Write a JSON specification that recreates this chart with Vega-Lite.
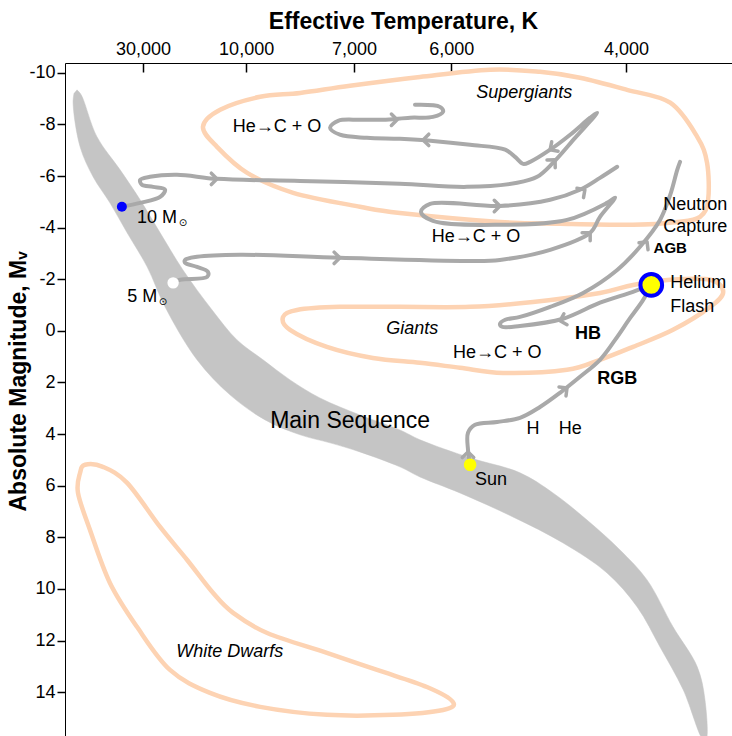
{
  "$schema": "https://vega.github.io/schema/vega-lite/v6.json",
  "width": 667,
  "height": 673,
  "autosize": {"type": "none"},
  "padding": {"left": 65, "top": 63, "right": 0, "bottom": 0},
  "background": "white",
  "config": {"view": {"stroke": null}, "font": "Liberation Sans"},
  "datasets": {
    "band": [
      {"i": 1, "bv": -0.466, "mag": -9.34}, {"i": 2, "bv": -0.454, "mag": -9.15},
      {"i": 3, "bv": -0.409, "mag": -7.52}, {"i": 4, "bv": -0.343, "mag": -6.24},
      {"i": 5, "bv": -0.286, "mag": -5.08}, {"i": 6, "bv": -0.229, "mag": -3.80},
      {"i": 7, "bv": -0.164, "mag": -2.36}, {"i": 8, "bv": -0.081, "mag": -0.81},
      {"i": 9, "bv": -0.010, "mag": 0.35}, {"i": 10, "bv": 0.064, "mag": 1.12},
      {"i": 11, "bv": 0.141, "mag": 1.90}, {"i": 12, "bv": 0.226, "mag": 2.60},
      {"i": 13, "bv": 0.340, "mag": 3.26}, {"i": 14, "bv": 0.454, "mag": 3.84},
      {"i": 15, "bv": 0.511, "mag": 4.22}, {"i": 16, "bv": 0.654, "mag": 4.92},
      {"i": 17, "bv": 0.796, "mag": 5.50}, {"i": 18, "bv": 0.890, "mag": 6.28},
      {"i": 19, "bv": 0.987, "mag": 7.33}, {"i": 20, "bv": 1.081, "mag": 8.49},
      {"i": 21, "bv": 1.158, "mag": 9.65}, {"i": 22, "bv": 1.232, "mag": 11.47},
      {"i": 23, "bv": 1.301, "mag": 13.02}, {"i": 24, "bv": 1.323, "mag": 14.30},
      {"i": 25, "bv": 1.326, "mag": 15.85}, {"i": 26, "bv": 1.318, "mag": 15.85},
      {"i": 27, "bv": 1.261, "mag": 13.91}, {"i": 28, "bv": 1.195, "mag": 12.25},
      {"i": 29, "bv": 1.130, "mag": 10.70}, {"i": 30, "bv": 1.044, "mag": 9.38},
      {"i": 31, "bv": 0.919, "mag": 8.22}, {"i": 32, "bv": 0.776, "mag": 7.21},
      {"i": 33, "bv": 0.625, "mag": 6.28}, {"i": 34, "bv": 0.511, "mag": 5.66},
      {"i": 35, "bv": 0.454, "mag": 5.27}, {"i": 36, "bv": 0.340, "mag": 4.69},
      {"i": 37, "bv": 0.255, "mag": 4.34}, {"i": 38, "bv": 0.170, "mag": 4.03},
      {"i": 39, "bv": 0.070, "mag": 3.45}, {"i": 40, "bv": -0.030, "mag": 2.48},
      {"i": 41, "bv": -0.124, "mag": 1.12}, {"i": 42, "bv": -0.215, "mag": -0.93},
      {"i": 43, "bv": -0.266, "mag": -2.48}, {"i": 44, "bv": -0.323, "mag": -3.80},
      {"i": 45, "bv": -0.372, "mag": -4.96}, {"i": 46, "bv": -0.420, "mag": -5.97},
      {"i": 47, "bv": -0.457, "mag": -7.13}, {"i": 48, "bv": -0.477, "mag": -8.84},
      {"i": 49, "bv": -0.474, "mag": -9.22}
    ],
    "regions": [
      {"region": "Supergiants", "i": 1, "bv": -0.107, "mag": -7.91},
      {"region": "Supergiants", "i": 2, "bv": -0.058, "mag": -8.57},
      {"region": "Supergiants", "i": 3, "bv": 0.056, "mag": -9.07},
      {"region": "Supergiants", "i": 4, "bv": 0.170, "mag": -9.22},
      {"region": "Supergiants", "i": 5, "bv": 0.312, "mag": -9.50},
      {"region": "Supergiants", "i": 6, "bv": 0.511, "mag": -9.84},
      {"region": "Supergiants", "i": 7, "bv": 0.711, "mag": -10.12},
      {"region": "Supergiants", "i": 8, "bv": 0.853, "mag": -10.04},
      {"region": "Supergiants", "i": 9, "bv": 0.967, "mag": -9.81},
      {"region": "Supergiants", "i": 10, "bv": 1.101, "mag": -9.34},
      {"region": "Supergiants", "i": 11, "bv": 1.224, "mag": -8.84},
      {"region": "Supergiants", "i": 12, "bv": 1.301, "mag": -7.52},
      {"region": "Supergiants", "i": 13, "bv": 1.329, "mag": -6.51},
      {"region": "Supergiants", "i": 14, "bv": 1.332, "mag": -5.08},
      {"region": "Supergiants", "i": 15, "bv": 1.309, "mag": -4.42},
      {"region": "Supergiants", "i": 16, "bv": 1.244, "mag": -4.22},
      {"region": "Supergiants", "i": 17, "bv": 1.118, "mag": -4.11},
      {"region": "Supergiants", "i": 18, "bv": 0.910, "mag": -4.15},
      {"region": "Supergiants", "i": 19, "bv": 0.739, "mag": -4.22},
      {"region": "Supergiants", "i": 20, "bv": 0.454, "mag": -4.57},
      {"region": "Supergiants", "i": 21, "bv": 0.340, "mag": -4.81},
      {"region": "Supergiants", "i": 22, "bv": 0.150, "mag": -5.35},
      {"region": "Supergiants", "i": 23, "bv": 0.019, "mag": -6.12},
      {"region": "Supergiants", "i": 24, "bv": -0.067, "mag": -7.13},
      {"region": "Giants", "i": 1, "bv": 0.121, "mag": -0.54},
      {"region": "Giants", "i": 2, "bv": 0.161, "mag": -0.81},
      {"region": "Giants", "i": 3, "bv": 0.283, "mag": -0.93},
      {"region": "Giants", "i": 4, "bv": 0.454, "mag": -0.93},
      {"region": "Giants", "i": 5, "bv": 0.654, "mag": -0.93},
      {"region": "Giants", "i": 6, "bv": 0.833, "mag": -1.12},
      {"region": "Giants", "i": 7, "bv": 1.024, "mag": -1.47},
      {"region": "Giants", "i": 8, "bv": 1.118, "mag": -1.78},
      {"region": "Giants", "i": 9, "bv": 1.224, "mag": -1.98},
      {"region": "Giants", "i": 10, "bv": 1.338, "mag": -1.98},
      {"region": "Giants", "i": 11, "bv": 1.375, "mag": -1.51},
      {"region": "Giants", "i": 12, "bv": 1.338, "mag": -0.93},
      {"region": "Giants", "i": 13, "bv": 1.232, "mag": -0.04},
      {"region": "Giants", "i": 14, "bv": 1.118, "mag": 0.62},
      {"region": "Giants", "i": 15, "bv": 1.024, "mag": 1.12},
      {"region": "Giants", "i": 16, "bv": 0.930, "mag": 1.51},
      {"region": "Giants", "i": 17, "bv": 0.748, "mag": 1.63},
      {"region": "Giants", "i": 18, "bv": 0.625, "mag": 1.43},
      {"region": "Giants", "i": 19, "bv": 0.511, "mag": 1.24},
      {"region": "Giants", "i": 20, "bv": 0.377, "mag": 1.05},
      {"region": "Giants", "i": 21, "bv": 0.246, "mag": 0.62},
      {"region": "Giants", "i": 22, "bv": 0.141, "mag": -0.04},
      {"region": "White Dwarfs", "i": 1, "bv": -0.443, "mag": 5.19},
      {"region": "White Dwarfs", "i": 2, "bv": -0.392, "mag": 5.27},
      {"region": "White Dwarfs", "i": 3, "bv": -0.323, "mag": 5.89},
      {"region": "White Dwarfs", "i": 4, "bv": -0.229, "mag": 7.60},
      {"region": "White Dwarfs", "i": 5, "bv": -0.152, "mag": 8.88},
      {"region": "White Dwarfs", "i": 6, "bv": -0.078, "mag": 10.16},
      {"region": "White Dwarfs", "i": 7, "bv": -0.021, "mag": 10.93},
      {"region": "White Dwarfs", "i": 8, "bv": 0.076, "mag": 11.71},
      {"region": "White Dwarfs", "i": 9, "bv": 0.246, "mag": 12.48},
      {"region": "White Dwarfs", "i": 10, "bv": 0.389, "mag": 13.14},
      {"region": "White Dwarfs", "i": 11, "bv": 0.531, "mag": 13.80},
      {"region": "White Dwarfs", "i": 12, "bv": 0.605, "mag": 14.38},
      {"region": "White Dwarfs", "i": 13, "bv": 0.577, "mag": 14.69},
      {"region": "White Dwarfs", "i": 14, "bv": 0.434, "mag": 14.88},
      {"region": "White Dwarfs", "i": 15, "bv": 0.246, "mag": 14.88},
      {"region": "White Dwarfs", "i": 16, "bv": 0.056, "mag": 14.57},
      {"region": "White Dwarfs", "i": 17, "bv": -0.087, "mag": 14.03},
      {"region": "White Dwarfs", "i": 18, "bv": -0.201, "mag": 13.14},
      {"region": "White Dwarfs", "i": 19, "bv": -0.295, "mag": 11.47},
      {"region": "White Dwarfs", "i": 20, "bv": -0.372, "mag": 9.77},
      {"region": "White Dwarfs", "i": 21, "bv": -0.429, "mag": 7.71},
      {"region": "White Dwarfs", "i": 22, "bv": -0.463, "mag": 6.28},
      {"region": "White Dwarfs", "i": 23, "bv": -0.457, "mag": 5.50}
    ],
    "tracks": [
      {"track": "10 Msun", "i": 1, "bv": -0.338, "mag": -4.81},
      {"track": "10 Msun", "i": 2, "bv": -0.286, "mag": -4.96},
      {"track": "10 Msun", "i": 3, "bv": -0.229, "mag": -5.19},
      {"track": "10 Msun", "i": 4, "bv": -0.215, "mag": -5.47},
      {"track": "10 Msun", "i": 5, "bv": -0.249, "mag": -5.58},
      {"track": "10 Msun", "i": 6, "bv": -0.281, "mag": -5.66},
      {"track": "10 Msun", "i": 7, "bv": -0.286, "mag": -5.85},
      {"track": "10 Msun", "i": 8, "bv": -0.258, "mag": -5.97},
      {"track": "10 Msun", "i": 9, "bv": -0.181, "mag": -6.05},
      {"track": "10 Msun", "i": 10, "bv": -0.067, "mag": -5.89},
      {"track": "10 Msun", "i": 11, "bv": 0.170, "mag": -5.81},
      {"track": "10 Msun", "i": 12, "bv": 0.454, "mag": -5.70},
      {"track": "10 Msun", "i": 13, "bv": 0.645, "mag": -5.58},
      {"track": "10 Msun", "i": 14, "bv": 0.788, "mag": -5.74},
      {"track": "10 Msun", "i": 15, "bv": 0.845, "mag": -5.97},
      {"track": "10 Msun", "i": 16, "bv": 0.890, "mag": -6.51},
      {"track": "10 Msun", "i": 17, "bv": 0.953, "mag": -7.48},
      {"track": "10 Msun", "i": 18, "bv": 1.016, "mag": -8.45},
      {"track": "10 Msun", "i": 19, "bv": 0.996, "mag": -8.26},
      {"track": "10 Msun", "i": 20, "bv": 0.939, "mag": -7.60},
      {"track": "10 Msun", "i": 21, "bv": 0.882, "mag": -7.02},
      {"track": "10 Msun", "i": 22, "bv": 0.825, "mag": -6.55},
      {"track": "10 Msun", "i": 23, "bv": 0.805, "mag": -6.47},
      {"track": "10 Msun", "i": 24, "bv": 0.782, "mag": -6.74},
      {"track": "10 Msun", "i": 25, "bv": 0.754, "mag": -7.02},
      {"track": "10 Msun", "i": 26, "bv": 0.654, "mag": -7.21},
      {"track": "10 Msun", "i": 27, "bv": 0.548, "mag": -7.36},
      {"track": "10 Msun", "i": 28, "bv": 0.454, "mag": -7.44},
      {"track": "10 Msun", "i": 29, "bv": 0.360, "mag": -7.48},
      {"track": "10 Msun", "i": 30, "bv": 0.283, "mag": -7.60},
      {"track": "10 Msun", "i": 31, "bv": 0.255, "mag": -7.87},
      {"track": "10 Msun", "i": 32, "bv": 0.278, "mag": -8.14},
      {"track": "10 Msun", "i": 33, "bv": 0.340, "mag": -8.18},
      {"track": "10 Msun", "i": 34, "bv": 0.406, "mag": -8.18},
      {"track": "10 Msun", "i": 35, "bv": 0.483, "mag": -8.26},
      {"track": "10 Msun", "i": 36, "bv": 0.548, "mag": -8.29},
      {"track": "10 Msun", "i": 37, "bv": 0.577, "mag": -8.49},
      {"track": "10 Msun", "i": 38, "bv": 0.568, "mag": -8.68},
      {"track": "10 Msun", "i": 39, "bv": 0.497, "mag": -8.76},
      {"track": "5 Msun", "i": 1, "bv": -0.192, "mag": -1.86},
      {"track": "5 Msun", "i": 2, "bv": -0.172, "mag": -1.98},
      {"track": "5 Msun", "i": 3, "bv": -0.095, "mag": -2.09},
      {"track": "5 Msun", "i": 4, "bv": -0.093, "mag": -2.29},
      {"track": "5 Msun", "i": 5, "bv": -0.124, "mag": -2.48},
      {"track": "5 Msun", "i": 6, "bv": -0.158, "mag": -2.64},
      {"track": "5 Msun", "i": 7, "bv": -0.158, "mag": -2.75},
      {"track": "5 Msun", "i": 8, "bv": -0.124, "mag": -2.87},
      {"track": "5 Msun", "i": 9, "bv": -0.001, "mag": -2.95},
      {"track": "5 Msun", "i": 10, "bv": 0.283, "mag": -2.83},
      {"track": "5 Msun", "i": 11, "bv": 0.654, "mag": -2.71},
      {"track": "5 Msun", "i": 12, "bv": 0.739, "mag": -2.75},
      {"track": "5 Msun", "i": 13, "bv": 0.882, "mag": -3.14},
      {"track": "5 Msun", "i": 14, "bv": 0.996, "mag": -3.80},
      {"track": "5 Msun", "i": 15, "bv": 1.024, "mag": -4.42},
      {"track": "5 Msun", "i": 16, "bv": 1.067, "mag": -5.16},
      {"track": "5 Msun", "i": 17, "bv": 1.044, "mag": -4.96},
      {"track": "5 Msun", "i": 18, "bv": 0.930, "mag": -4.30},
      {"track": "5 Msun", "i": 19, "bv": 0.739, "mag": -4.11},
      {"track": "5 Msun", "i": 20, "bv": 0.548, "mag": -4.26},
      {"track": "5 Msun", "i": 21, "bv": 0.514, "mag": -4.61},
      {"track": "5 Msun", "i": 22, "bv": 0.540, "mag": -4.92},
      {"track": "5 Msun", "i": 23, "bv": 0.739, "mag": -4.84},
      {"track": "5 Msun", "i": 24, "bv": 0.882, "mag": -5.08},
      {"track": "5 Msun", "i": 25, "bv": 0.967, "mag": -5.47},
      {"track": "5 Msun", "i": 26, "bv": 1.024, "mag": -5.93},
      {"track": "5 Msun", "i": 27, "bv": 1.073, "mag": -6.36},
      {"track": "1 Msun RGB", "i": 1, "bv": 0.654, "mag": 5.19},
      {"track": "1 Msun RGB", "i": 2, "bv": 0.648, "mag": 4.61},
      {"track": "1 Msun RGB", "i": 3, "bv": 0.648, "mag": 3.95},
      {"track": "1 Msun RGB", "i": 4, "bv": 0.668, "mag": 3.64},
      {"track": "1 Msun RGB", "i": 5, "bv": 0.731, "mag": 3.53},
      {"track": "1 Msun RGB", "i": 6, "bv": 0.796, "mag": 3.37},
      {"track": "1 Msun RGB", "i": 7, "bv": 0.853, "mag": 2.95},
      {"track": "1 Msun RGB", "i": 8, "bv": 0.910, "mag": 2.40},
      {"track": "1 Msun RGB", "i": 9, "bv": 0.967, "mag": 1.78},
      {"track": "1 Msun RGB", "i": 10, "bv": 1.024, "mag": 1.12},
      {"track": "1 Msun RGB", "i": 11, "bv": 1.067, "mag": 0.35},
      {"track": "1 Msun RGB", "i": 12, "bv": 1.110, "mag": -0.50},
      {"track": "1 Msun RGB", "i": 13, "bv": 1.147, "mag": -1.20},
      {"track": "1 Msun RGB", "i": 14, "bv": 1.170, "mag": -1.78},
      {"track": "1 Msun HB-AGB", "i": 1, "bv": 1.170, "mag": -1.78},
      {"track": "1 Msun HB-AGB", "i": 2, "bv": 1.118, "mag": -1.51},
      {"track": "1 Msun HB-AGB", "i": 3, "bv": 1.024, "mag": -1.09},
      {"track": "1 Msun HB-AGB", "i": 4, "bv": 0.919, "mag": -0.47},
      {"track": "1 Msun HB-AGB", "i": 5, "bv": 0.796, "mag": -0.19},
      {"track": "1 Msun HB-AGB", "i": 6, "bv": 0.745, "mag": -0.16},
      {"track": "1 Msun HB-AGB", "i": 7, "bv": 0.739, "mag": -0.27},
      {"track": "1 Msun HB-AGB", "i": 8, "bv": 0.754, "mag": -0.43},
      {"track": "1 Msun HB-AGB", "i": 9, "bv": 0.796, "mag": -0.54},
      {"track": "1 Msun HB-AGB", "i": 10, "bv": 0.882, "mag": -0.93},
      {"track": "1 Msun HB-AGB", "i": 11, "bv": 0.976, "mag": -1.47},
      {"track": "1 Msun HB-AGB", "i": 12, "bv": 1.073, "mag": -2.36},
      {"track": "1 Msun HB-AGB", "i": 13, "bv": 1.138, "mag": -3.26},
      {"track": "1 Msun HB-AGB", "i": 14, "bv": 1.195, "mag": -4.30},
      {"track": "1 Msun HB-AGB", "i": 15, "bv": 1.224, "mag": -5.27},
      {"track": "1 Msun HB-AGB", "i": 16, "bv": 1.244, "mag": -6.24},
      {"track": "1 Msun HB-AGB", "i": 17, "bv": 1.252, "mag": -6.55}
    ],
    "arrows": [
      {"bv": -0.067, "mag": -5.89, "dir": 0},
      {"bv": 0.896, "mag": -6.63, "dir": -46},
      {"bv": 0.882, "mag": -7.02, "dir": 146},
      {"bv": 0.520, "mag": -7.40, "dir": 180},
      {"bv": 0.446, "mag": -8.18, "dir": 0},
      {"bv": 0.283, "mag": -2.83, "dir": 0},
      {"bv": 0.996, "mag": -3.80, "dir": -45},
      {"bv": 0.739, "mag": -4.84, "dir": 0},
      {"bv": 0.981, "mag": -5.47, "dir": -35},
      {"bv": 0.648, "mag": 4.69, "dir": -90},
      {"bv": 0.930, "mag": 2.21, "dir": -38},
      {"bv": 0.910, "mag": -0.39, "dir": 164},
      {"bv": 1.158, "mag": -3.45, "dir": -52}
    ],
    "stars": [
      {"star": "10 Msun", "bv": -0.338, "mag": -4.81},
      {"star": "5 Msun", "bv": -0.192, "mag": -1.86},
      {"star": "Sun", "bv": 0.654, "mag": 5.19}
    ],
    "flash": [
      {"star": "Helium Flash", "bv": 1.170, "mag": -1.78}
    ],
    "labels": [
      {"text": "Supergiants", "kind": "region", "bv": 0.808, "mag": -9.22},
      {"text": "Giants", "kind": "region", "bv": 0.489, "mag": -0.08},
      {"text": "White Dwarfs", "kind": "region", "bv": -0.031, "mag": 12.44},
      {"text": "He→C + O", "kind": "reaction", "bv": 0.104, "mag": -7.91},
      {"text": "He→C + O", "kind": "reaction", "bv": 0.671, "mag": -3.64},
      {"text": "He→C + O", "kind": "reaction", "bv": 0.731, "mag": 0.85},
      {"text": "H", "kind": "reaction", "bv": 0.833, "mag": 3.80},
      {"text": "He", "kind": "reaction", "bv": 0.939, "mag": 3.80},
      {"text": "HB", "kind": "phase", "bv": 0.990, "mag": 0.12},
      {"text": "RGB", "kind": "phase", "bv": 1.073, "mag": 1.86},
      {"text": "AGB", "kind": "minor phase", "bv": 1.224, "mag": -3.22},
      {"text": "Neutron", "kind": "note", "bv": 1.204, "mag": -4.88},
      {"text": "Capture", "kind": "note", "bv": 1.204, "mag": -4.03},
      {"text": "Helium", "kind": "note", "bv": 1.224, "mag": -1.86},
      {"text": "Flash", "kind": "note", "bv": 1.224, "mag": -0.93},
      {"text": "Sun", "kind": "note", "bv": 0.668, "mag": 5.78},
      {"text": "10 M", "kind": "note", "bv": -0.295, "mag": -4.38},
      {"text": "5 M", "kind": "note", "bv": -0.323, "mag": -1.32},
      {"text": "⊙", "kind": "solar", "bv": -0.164, "mag": -4.19},
      {"text": "⊙", "kind": "solar", "bv": -0.221, "mag": -1.12},
      {"text": "Main Sequence", "kind": "sequence", "bv": 0.312, "mag": 3.49}
    ]
  },
  "encoding": {
    "x": {
      "field": "bv",
      "type": "quantitative",
      "scale": {"domain": [-0.5, 1.4], "nice": false, "zero": false},
      "axis": {
        "orient": "top",
        "values": [-0.278, 0.016, 0.323, 0.6, 1.098],
        "labelExpr": "datum.value < -0.1 ? '30,000' : datum.value < 0.1 ? '10,000' : datum.value < 0.45 ? '7,000' : datum.value < 0.8 ? '6,000' : '4,000'",
        "title": "Effective Temperature, K",
        "titleFont": "Liberation Sans",
        "titleFontSize": 23,
        "titleFontWeight": "bold",
        "titleColor": "black",
        "titleAlign": "center",
        "titleBaseline": "middle",
        "titleX": 338,
        "titleY": -42,
        "labelFont": "Liberation Sans",
        "labelFontSize": 18,
        "labelColor": "black",
        "labelPadding": 14,
        "tickSize": -9,
        "tickWidth": 1.5,
        "tickColor": "black",
        "domainColor": "black",
        "domainWidth": 1,
        "grid": false
      }
    },
    "y": {
      "field": "mag",
      "type": "quantitative",
      "scale": {"domain": [-10.38, 15.7], "reverse": true, "nice": false, "zero": false},
      "axis": {
        "values": [-10, -8, -6, -4, -2, 0, 2, 4, 6, 8, 10, 12, 14],
        "labelExpr": "datum.value < 0 ? '-' + abs(datum.value) : '' + datum.value",
        "title": "Absolute Magnitude, Mᵥ",
        "titleFont": "Liberation Sans",
        "titleFontSize": 23,
        "titleFontWeight": "bold",
        "titleColor": "black",
        "titleAlign": "center",
        "titleBaseline": "middle",
        "titleX": -47,
        "titleY": 318,
        "labelFont": "Liberation Sans",
        "labelFontSize": 18,
        "labelColor": "black",
        "labelPadding": 2,
        "tickSize": 8,
        "tickWidth": 1.5,
        "tickColor": "black",
        "domainColor": "black",
        "domainWidth": 1,
        "grid": false
      }
    }
  },
  "layer": [
    {
      "data": {"name": "band"},
      "mark": {"type": "line", "fill": "#c5c5c5", "stroke": "#c5c5c5", "strokeWidth": 0.5, "interpolate": "catmull-rom", "clip": true},
      "encoding": {"order": {"field": "i", "type": "quantitative"}}
    },
    {
      "data": {"name": "regions"},
      "mark": {"type": "line", "color": "#fdd3b3", "strokeWidth": 4.5, "interpolate": "cardinal-closed", "clip": true},
      "encoding": {
        "detail": {"field": "region", "type": "nominal"},
        "order": {"field": "i", "type": "quantitative"}
      }
    },
    {
      "data": {"name": "tracks"},
      "mark": {"type": "line", "color": "#a9a9a9", "strokeWidth": 4, "interpolate": "catmull-rom", "strokeCap": "round", "strokeJoin": "round", "clip": true},
      "encoding": {
        "detail": {"field": "track", "type": "nominal"},
        "order": {"field": "i", "type": "quantitative"}
      }
    },
    {
      "data": {"name": "arrows"},
      "mark": {"type": "point", "shape": "M-1,-1L0,0L-1,1", "filled": false, "color": "#a9a9a9", "strokeWidth": 3.5, "strokeCap": "round", "strokeJoin": "round", "size": 130, "opacity": 1},
      "encoding": {"angle": {"field": "dir", "type": "quantitative", "scale": null}}
    },
    {
      "data": {"name": "stars"},
      "mark": {"type": "point", "shape": "circle", "filled": true, "opacity": 1, "strokeWidth": 0},
      "encoding": {
        "color": {"field": "star", "type": "nominal", "scale": {"domain": ["10 Msun", "5 Msun", "Sun"], "range": ["#0000ff", "#ffffff", "#ffff00"]}, "legend": null},
        "size": {"field": "star", "type": "ordinal", "scale": {"domain": ["10 Msun", "5 Msun", "Sun"], "range": [100, 160, 160]}, "legend": null}
      }
    },
    {
      "data": {"name": "flash"},
      "mark": {"type": "point", "shape": "circle", "fill": "#ffff00", "stroke": "#0000ff", "strokeWidth": 4, "size": 470, "opacity": 1}
    },
    {
      "data": {"name": "labels"},
      "transform": [{"filter": "datum.kind === 'region'"}],
      "mark": {"type": "text", "font": "Liberation Sans", "fontSize": 18, "fontStyle": "italic", "color": "black", "align": "center", "baseline": "middle"},
      "encoding": {"text": {"field": "text"}}
    },
    {
      "data": {"name": "labels"},
      "transform": [{"filter": "datum.kind === 'reaction'"}],
      "mark": {"type": "text", "font": "Liberation Sans", "fontSize": 18, "color": "black", "align": "center", "baseline": "middle"},
      "encoding": {"text": {"field": "text"}}
    },
    {
      "data": {"name": "labels"},
      "transform": [{"filter": "datum.kind === 'phase'"}],
      "mark": {"type": "text", "font": "Liberation Sans", "fontSize": 18, "fontWeight": "bold", "color": "black", "align": "center", "baseline": "middle"},
      "encoding": {"text": {"field": "text"}}
    },
    {
      "data": {"name": "labels"},
      "transform": [{"filter": "datum.kind === 'minor phase'"}],
      "mark": {"type": "text", "font": "Liberation Sans", "fontSize": 15, "fontWeight": "bold", "color": "black", "align": "center", "baseline": "middle"},
      "encoding": {"text": {"field": "text"}}
    },
    {
      "data": {"name": "labels"},
      "transform": [{"filter": "datum.kind === 'note'"}],
      "mark": {"type": "text", "font": "Liberation Sans", "fontSize": 18, "color": "black", "align": "left", "baseline": "middle"},
      "encoding": {"text": {"field": "text"}}
    },
    {
      "data": {"name": "labels"},
      "transform": [{"filter": "datum.kind === 'solar'"}],
      "mark": {"type": "text", "font": "DejaVu Sans", "fontSize": 10, "color": "black", "align": "center", "baseline": "middle"},
      "encoding": {"text": {"field": "text"}}
    },
    {
      "data": {"name": "labels"},
      "transform": [{"filter": "datum.kind === 'sequence'"}],
      "mark": {"type": "text", "font": "Liberation Sans", "fontSize": 23, "color": "black", "align": "center", "baseline": "middle"},
      "encoding": {"text": {"field": "text"}}
    }
  ]
}
